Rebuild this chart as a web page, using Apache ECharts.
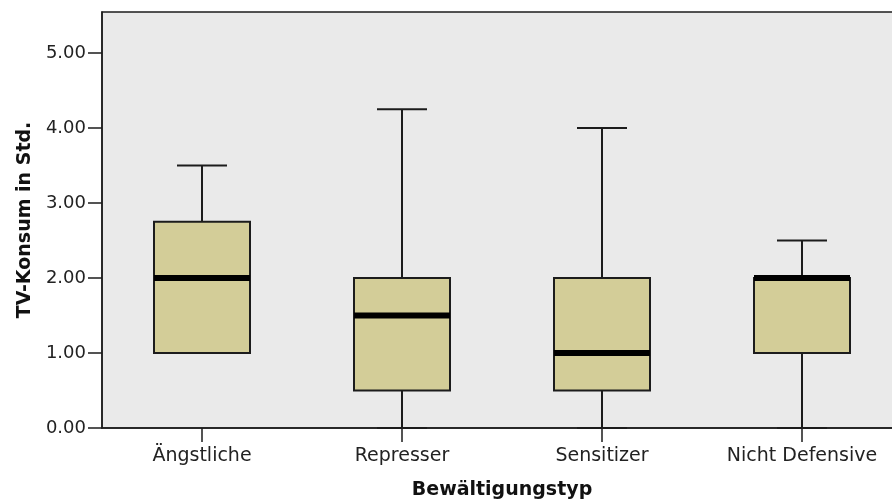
<!DOCTYPE html>
<html>
<head>
<meta charset="utf-8">
<script src="https://cdn.jsdelivr.net/npm/echarts@6/dist/echarts.min.js"></script>
<style>html,body{margin:0;padding:0;background:#fff;}#c{width:892px;height:500px;}</style>
</head>
<body>
<div id="c"></div>
<script>
var categories = ['Ängstliche', 'Represser', 'Sensitizer', 'Nicht Defensive'];
var mins    = [1.00, 0.00, 0.00, 0.00];
var q1s     = [1.00, 0.50, 0.50, 1.00];
var medians = [2.00, 1.50, 1.00, 2.00];
var q3s     = [2.75, 2.00, 2.00, 2.00];
var maxs    = [3.50, 4.25, 4.00, 2.50];
var yTicks  = [0, 1, 2, 3, 4, 5];

var data = categories.map(function (c, i) {
  return [i, mins[i], q1s[i], medians[i], q3s[i], maxs[i]];
});

var chart = echarts.init(document.getElementById('c'), null, {renderer: 'canvas'});
var font = '"DejaVu Sans", Verdana, sans-serif';
var dark = '#1c1c1c';

chart.setOption({
  animation: false,
  backgroundColor: '#ffffff',
  grid: {
    left: 102, top: 12, width: 800, height: 416,
    outerBoundsMode: 'none',
    containLabel: false,
    show: true, backgroundColor: '#EAEAEA', borderColor: dark, borderWidth: 1.5
  },
  xAxis: {
    type: 'category',
    data: categories,
    boundaryGap: true,
    name: 'Bewältigungstyp',
    nameLocation: 'middle',
    nameGap: 53,
    nameTextStyle: {fontFamily: font, fontSize: 19, fontWeight: 'bold', color: '#111'},
    axisLine: {show: true, lineStyle: {color: dark, width: 1.5}},
    axisTick: {show: true, interval: 0, alignWithLabel: true, length: 14, lineStyle: {color: dark, width: 1.5}},
    axisLabel: {interval: 0, fontFamily: font, fontSize: 19, color: '#222', margin: 19},
    splitLine: {show: false}
  },
  yAxis: {
    type: 'value',
    min: 0,
    max: 416 / 75,
    interval: 1,
    name: 'TV-Konsum in Std.',
    nameLocation: 'middle',
    nameGap: 64,
    nameTextStyle: {fontFamily: font, fontSize: 19, fontWeight: 'bold', color: '#111'},
    axisLine: {show: true, lineStyle: {color: dark, width: 1.5}},
    axisTick: {show: true, length: 14, customValues: yTicks, lineStyle: {color: dark, width: 1.5}},
    axisLabel: {
      fontFamily: font, fontSize: 18, color: '#222', margin: 16,
      customValues: yTicks,
      formatter: function (v) { return v.toFixed(2); }
    },
    splitLine: {show: false}
  },
  series: [{
    type: 'custom',
    data: data,
    clip: false,
    encode: {x: 0, y: [1, 2, 3, 4, 5]},
    renderItem: function (params, api) {
      var idx = api.value(0);
      var band = api.size([1, 0])[0];
      var boxHalf = band * 0.24;
      var capHalf = band * 0.125;
      var pMin = api.coord([idx, api.value(1)]);
      var pQ1 = api.coord([idx, api.value(2)]);
      var pMed = api.coord([idx, api.value(3)]);
      var pQ3 = api.coord([idx, api.value(4)]);
      var pMax = api.coord([idx, api.value(5)]);
      var x = pMed[0];
      var lineStyle = {stroke: dark, lineWidth: 2};
      return {
        type: 'group',
        children: [
          {type: 'line', shape: {x1: x, y1: pQ3[1], x2: x, y2: pMax[1]}, style: lineStyle},
          {type: 'line', shape: {x1: x, y1: pQ1[1], x2: x, y2: pMin[1]}, style: lineStyle},
          {type: 'line', shape: {x1: x - capHalf, y1: pMax[1], x2: x + capHalf, y2: pMax[1]}, style: lineStyle},
          {type: 'line', shape: {x1: x - capHalf, y1: pMin[1], x2: x + capHalf, y2: pMin[1]}, style: lineStyle},
          {type: 'rect', shape: {x: x - boxHalf, y: pQ3[1], width: boxHalf * 2, height: pQ1[1] - pQ3[1]},
            style: {fill: '#D3CD98', stroke: dark, lineWidth: 2}},
          {type: 'line', shape: {x1: x - boxHalf, y1: pMed[1], x2: x + boxHalf, y2: pMed[1]},
            style: {stroke: '#000', lineWidth: 6}}
        ]
      };
    }
  }]
});
</script>
</body>
</html>
